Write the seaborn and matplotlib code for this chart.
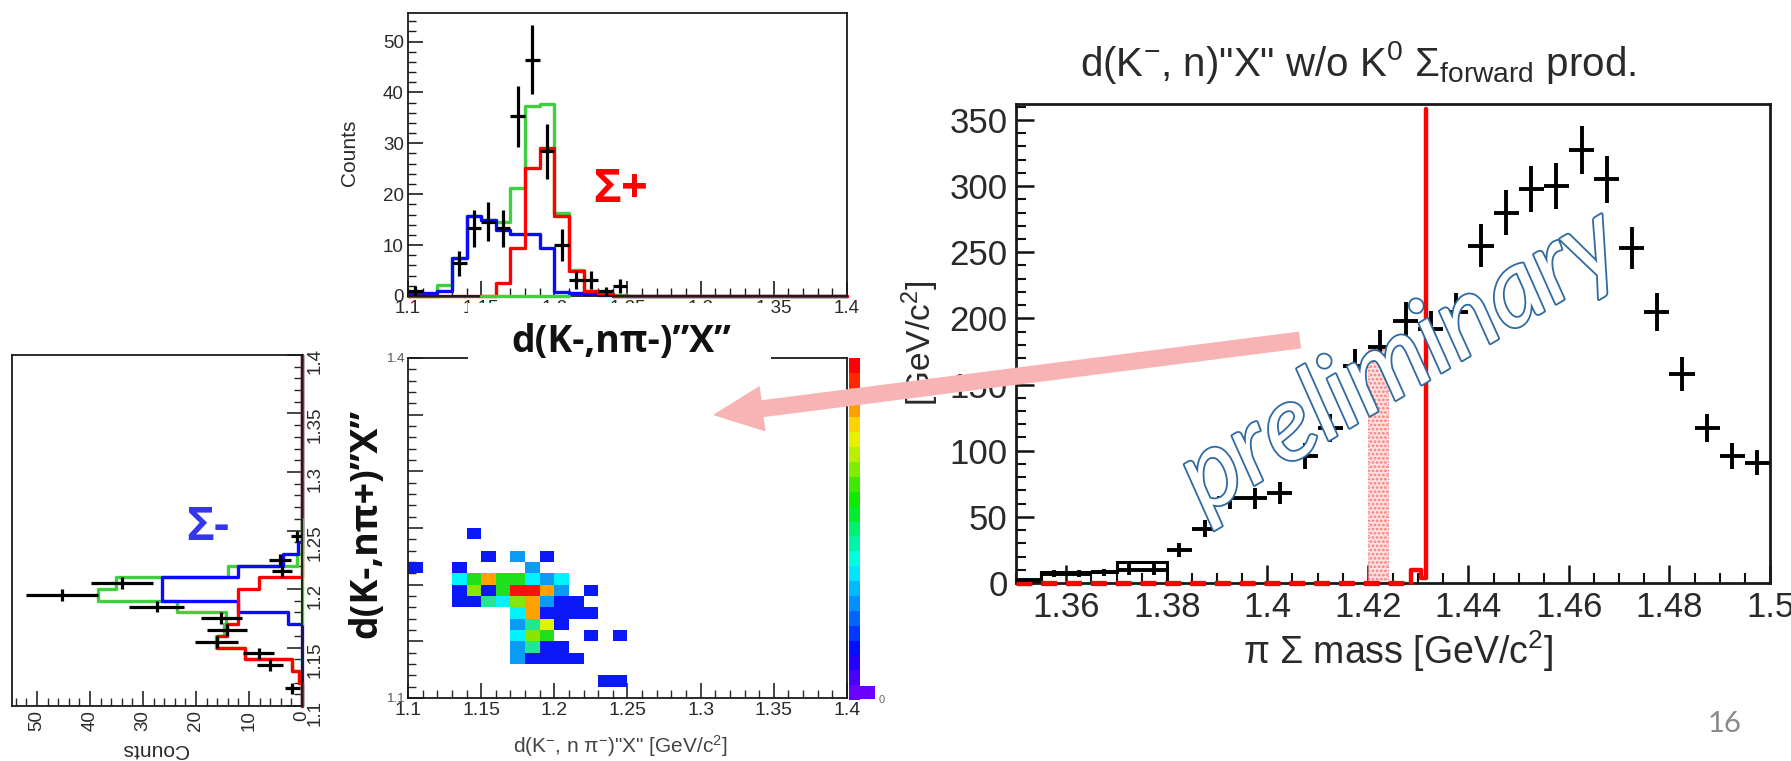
import numpy as np
import matplotlib
matplotlib.use("Agg")
import matplotlib.pyplot as plt
import seaborn as sns
from matplotlib.colors import ListedColormap, LinearSegmentedColormap
from matplotlib.patches import Rectangle, FancyArrow
from matplotlib.ticker import MultipleLocator, FixedLocator, FixedFormatter
import matplotlib.patheffects as pe

# ------------------------------------------------------------------ data
# common binning of the Sigma projections: 1.10 .. 1.40 GeV/c^2, 10 MeV bins
mass_edges = [round(1.10 + 0.01 * i, 2) for i in range(31)]
mass_centers = [round(1.105 + 0.01 * i, 3) for i in range(30)]

# top panel: d(K-, n pi-)"X"  (Sigma+ side)
sp_green = [0, 0, 2.2, 7.4, 15.7, 14.9, 14.6, 21.2, 37.4, 37.7, 16.4, 5.1, 1.0, 0.5, 0.2] + [0] * 15
sp_blue = [0.3, 0.5, 1.0, 7.4, 15.7, 14.9, 13.0, 12.2, 12.2, 9.4, 0.8, 0.6, 0.4, 0.2] + [0] * 16
sp_red = [0, 0, 0, 0, 0, 0, 2.5, 9.5, 25.1, 29.0, 15.8, 5.0, 1.0, 0.4] + [0] * 16
sp_green_zero = [1.15, 1.21]
sp_pts_x = [1.105, 1.135, 1.145, 1.155, 1.165, 1.175, 1.185, 1.195, 1.205, 1.215, 1.225, 1.235, 1.245]
sp_pts_y = [1.0, 6.4, 13.3, 14.6, 13.3, 35.3, 46.4, 28.4, 10.0, 3.1, 3.1, 0.9, 2.0]

# left panel: d(K-, n pi+)"X"  (Sigma- side), drawn rotated
sm_green = [0, 0, 0.5, 1.8, 10.8, 16.3, 14.8, 14.4, 23.6, 38.4, 35.0, 13.9, 0.9] + [0] * 17
sm_blue = [0, 0, 0, 0, 0, 0, 0, 2.6, 12.0, 26.5, 26.5, 12.0, 3.5, 0.8] + [0] * 16
sm_red = [0, 0, 0.5, 1.8, 10.8, 16.1, 14.2, 12.0, 12.0, 12.0, 8.2] + [0] * 19
sm_green_zero = [1.17, 1.26]
sm_pts_mass = [1.115, 1.135, 1.145, 1.155, 1.165, 1.175, 1.185, 1.195, 1.205, 1.215, 1.225, 1.245]
sm_pts_counts = [1.8, 6.0, 8.2, 16.1, 14.2, 15.2, 27.4, 45.3, 34.0, 3.8, 4.2, 1.0]

# 2D histogram cells (x bin index, y bin index, counts)
cell_ix = [4, 5, 7, 9, 0, 3, 8,
           3, 4, 5, 6, 7, 8, 9, 10,
           3, 4, 5, 6, 7, 8, 9, 10, 12,
           3, 4, 5, 6, 7, 8, 9, 10, 11,
           7, 8, 9, 10, 11, 12,
           7, 8, 9, 10,
           7, 8, 9, 12, 14,
           7, 8, 9, 10,
           7, 8, 9, 10, 11,
           13, 14]
cell_iy = [14, 12, 12, 12, 11, 11, 11,
           10, 10, 10, 10, 10, 10, 10, 10,
           9, 9, 9, 9, 9, 9, 9, 9, 9,
           8, 8, 8, 8, 8, 8, 8, 8, 8,
           7, 7, 7, 7, 7, 7,
           6, 6, 6, 6,
           5, 5, 5, 5, 5,
           4, 4, 4, 4,
           3, 3, 3, 3, 3,
           1, 1]
cell_n = [1, 1, 2, 1, 1, 1, 2,
          3, 5, 8, 5, 5, 3, 2, 3,
          1, 6, 1, 5, 10, 10, 8, 2, 1,
          1, 1, 4, 3, 6, 8, 2, 1, 1,
          3, 8, 1, 1, 1, 1,
          2, 4, 7, 1,
          3, 6, 5, 1, 1,
          2, 4, 1, 1,
          2, 1, 1, 1, 1,
          1, 1]

# right panel: pi Sigma mass, 5 MeV bins
pisig_x = [round(1.3525 + 0.005 * i, 4) for i in range(30)]
pisig_y = [2, 7, 7, 8, 10, 10, 25, 41, 64, 64, 68, 96, 117, 164, 178,
           198, 192, 205, 255, 280, 298, 300, 327, 305, 253, 205, 158, 117, 96, 91]
low_err = [1.5, 2.5, 2.5, 2.5, 4, 4]
low_step_edges = [1.35, 1.355, 1.37, 1.38]
low_step_vals = [0, 8.5, 15.5]
red_zero_x = [1.35, 1.4285]
red_peak_x = [1.4285, 1.4285, 1.4305, 1.4305, 1.4315, 1.4315]
red_peak_y = [0, 10, 10, 4, 4, 358]
band_lo, band_hi, band_h = 1.420, 1.424, 177

# tick labels
top_xticks = [1.1, 1.15, 1.2, 1.25, 1.3, 1.35, 1.4]
top_xlabels = ['1.1', '1.15', '1.2', '1.25', '1.3', '1.35', '1.4']
r_xticks = [1.36, 1.38, 1.40, 1.42, 1.44, 1.46, 1.48, 1.50]
r_xlabels = ['1.36', '1.38', '1.4', '1.42', '1.44', '1.46', '1.48', '1.5']
r_yticks = [0, 50, 100, 150, 200, 250, 300, 350]

# ------------------------------------------------------------------ style
sns.set_style("ticks")
plt.rcParams['font.family'] = ['Liberation Sans', 'DejaVu Sans']
plt.rcParams['mathtext.fontset'] = 'custom'
plt.rcParams['mathtext.rm'] = 'Liberation Sans'
plt.rcParams['mathtext.it'] = 'Liberation Sans:italic'
plt.rcParams['mathtext.bf'] = 'Liberation Sans:bold'
plt.rcParams['hatch.color'] = '#ff6a6a'
plt.rcParams['hatch.linewidth'] = 1.3

RED, GREEN, BLUE = '#ff0000', '#3fcf3f', '#0a0aff'
TXT = '#2a2a2a'
BOLD = ['Open Sans', 'DejaVu Sans']

W, H = 1791, 761
fig = plt.figure(figsize=(W / 100, H / 100), dpi=100)
fig.patch.set_facecolor('white')


def add_ax(x0, y0, x1, y1):
    return fig.add_axes([x0 / W, 1 - y1 / H, (x1 - x0) / W, (y1 - y0) / H])


def frame(ax, lw=1.3):
    for s in ax.spines.values():
        s.set_visible(True)
        s.set_linewidth(lw)
        s.set_color('#1a1a1a')


# ------------------------------------------------------------------ top panel
ax_t = add_ax(408, 13, 847, 296)
for vals, col in [(sp_green, GREEN), (sp_blue, BLUE), (sp_red, RED)]:
    sns.histplot(x=mass_centers, weights=vals, bins=mass_edges, element='step',
                 fill=False, color=col, linewidth=2.4, ax=ax_t, clip_on=False)
ax_t.plot(sp_green_zero, [0, 0], color=GREEN, lw=2.4, clip_on=False, zorder=5)
ax_t.errorbar(sp_pts_x, sp_pts_y, yerr=np.sqrt(sp_pts_y), xerr=0.005, fmt='none',
              ecolor='k', elinewidth=2.3, capsize=0, zorder=6)
ax_t.set_xlim(1.1, 1.4)
ax_t.set_ylim(0, 55.6)
ax_t.xaxis.set_major_locator(FixedLocator(top_xticks))
ax_t.xaxis.set_major_formatter(FixedFormatter(top_xlabels))
ax_t.xaxis.set_minor_locator(MultipleLocator(0.01))
ax_t.yaxis.set_major_locator(MultipleLocator(10))
ax_t.yaxis.set_minor_locator(MultipleLocator(2))
ax_t.tick_params(which='both', direction='in', top=False, right=False, color='#1a1a1a')
ax_t.tick_params(which='major', length=11, width=1.2, labelsize=13.5, pad=3, labelcolor=TXT)
ax_t.tick_params(which='minor', length=6, width=1.0)
ax_t.set_xlabel('')
ax_t.set_ylabel('')
frame(ax_t)

# ------------------------------------------------------------------ left panel
ax_l = add_ax(12, 355, 302, 706)
for vals, col in [(sm_green, GREEN), (sm_blue, BLUE), (sm_red, RED)]:
    sns.histplot(y=mass_centers, weights=vals, bins=mass_edges, element='step',
                 fill=False, color=col, linewidth=2.4, ax=ax_l, clip_on=False)
ax_l.plot([0, 0], sm_green_zero, color=GREEN, lw=2.4, clip_on=False, zorder=2)
ax_l.errorbar(sm_pts_counts, sm_pts_mass, xerr=np.sqrt(sm_pts_counts), yerr=0.005,
              fmt='none', ecolor='k', elinewidth=2.3, capsize=0, zorder=6)
ax_l.set_xlim(54.7, 0)
ax_l.set_ylim(1.1, 1.4)
ax_l.yaxis.tick_right()
ax_l.yaxis.set_major_locator(FixedLocator(top_xticks))
ax_l.yaxis.set_major_formatter(FixedFormatter(top_xlabels))
ax_l.yaxis.set_minor_locator(MultipleLocator(0.01))
ax_l.xaxis.set_major_locator(MultipleLocator(10))
ax_l.xaxis.set_minor_locator(MultipleLocator(2))
ax_l.tick_params(axis='y', which='both', left=False, right=True, labelleft=False,
                 labelright=True, direction='in', labelrotation=90)
ax_l.tick_params(axis='x', which='both', top=False, bottom=True, direction='in',
                 labelrotation=90)
ax_l.tick_params(which='major', length=11, width=1.2, labelsize=13.5, pad=3, labelcolor=TXT)
ax_l.tick_params(which='minor', length=6, width=1.0)
ax_l.set_xlabel('')
ax_l.set_ylabel('')
frame(ax_l)

# ------------------------------------------------------------------ 2D panel
anchor_cols = ['#7a00ff', '#0818f8', '#0a9cf5', '#00f5ff', '#1fe890', '#1ee01e',
               '#8ae600', '#dcf50a', '#ffa200', '#ff4a00', '#ff1010']
cmap2d = LinearSegmentedColormap.from_list('root', anchor_cols, N=256)
ax_2 = add_ax(408, 358, 847, 698)
sns.histplot(x=[mass_centers[i] for i in cell_ix], y=[mass_centers[j] for j in cell_iy],
             weights=cell_n, bins=[mass_edges, mass_edges], cmap=cmap2d,
             vmin=0, vmax=10, ax=ax_2)
ax_2.set_xlim(1.1, 1.4)
ax_2.set_ylim(1.1, 1.4)
ax_2.xaxis.set_major_locator(FixedLocator(top_xticks))
ax_2.xaxis.set_major_formatter(FixedFormatter(top_xlabels))
ax_2.xaxis.set_minor_locator(MultipleLocator(0.01))
ax_2.yaxis.set_major_locator(FixedLocator(top_xticks))
ax_2.yaxis.set_major_formatter(FixedFormatter(['1.1', '', '', '', '', '', '1.4']))
ax_2.yaxis.set_minor_locator(MultipleLocator(0.01))
ax_2.tick_params(which='both', direction='in', top=False, right=False)
ax_2.tick_params(axis='x', which='major', length=11, width=1.2, labelsize=14, pad=3,
                 labelcolor=TXT)
ax_2.tick_params(axis='y', which='major', length=11, width=1.2, labelsize=9.5, pad=2,
                 labelcolor='#555555')
ax_2.tick_params(which='minor', length=6, width=1.0)
ax_2.set_xlabel('')
ax_2.set_ylabel('')
frame(ax_2)

# colour bar
cbar_cols = ['#6a00ff', '#4a00ff', '#2400ff', '#0010ff', '#0038ff', '#0064ff', '#0090ff',
             '#00b8ff', '#00e4ff', '#00ffe0', '#00f4a8', '#00f070', '#00ec30', '#10ea00',
             '#40ea00', '#80ec00', '#b8f000', '#e8f000', '#ffd200', '#ffa000', '#ff6000',
             '#ff2800', '#ff0000']
ax_c = add_ax(849, 358, 860, 700)
ax_c.pcolormesh(np.arange(len(cbar_cols)).reshape(-1, 1), cmap=ListedColormap(cbar_cols),
                vmin=-0.5, vmax=len(cbar_cols) - 0.5)
ax_c.set_xticks([])
ax_c.set_yticks([])
for s in ax_c.spines.values():
    s.set_visible(False)

# ------------------------------------------------------------------ right panel
ax_r = add_ax(1016, 104, 1770, 583)
ax_r.bar((band_lo + band_hi) / 2, band_h, width=band_hi - band_lo, facecolor='#ffe2e2',
         edgecolor='#ff7a7a', hatch='....', linewidth=0.8, linestyle=':', zorder=1)
ax_r.stairs(low_step_vals, low_step_edges, color='k', lw=2.2, zorder=3)
ax_r.plot(red_zero_x, [0, 0], color=RED, lw=3.8, dashes=(3, 1.7), clip_on=False, zorder=4)
ax_r.plot(red_peak_x, red_peak_y, color=RED, lw=3.2, clip_on=False, zorder=4)
pisig_err = low_err + list(np.sqrt(pisig_y[len(low_err):]))
ax_r.errorbar(pisig_x, pisig_y, yerr=pisig_err, xerr=0.0025, fmt='none', ecolor='k',
              elinewidth=2.8, capsize=0, zorder=5)
ax_r.set_xlim(1.35, 1.5)
ax_r.set_ylim(0, 362)
ax_r.xaxis.set_major_locator(FixedLocator(r_xticks))
ax_r.xaxis.set_major_formatter(FixedFormatter(r_xlabels))
ax_r.xaxis.set_minor_locator(MultipleLocator(0.005))
ax_r.yaxis.set_major_locator(FixedLocator(r_yticks))
ax_r.yaxis.set_minor_locator(MultipleLocator(10))
ax_r.tick_params(which='both', direction='in', top=False, right=False, color='#111111')
ax_r.tick_params(which='major', length=13, width=1.8, labelsize=25, pad=6, labelcolor=TXT)
ax_r.tick_params(which='minor', length=7, width=1.5)
frame(ax_r, lw=2.0)

# ------------------------------------------------------------------ overlay (slide annotations)
ov = fig.add_axes([0, 0, 1, 1], zorder=10)
ov.set_xlim(0, W)
ov.set_ylim(H, 0)
ov.axis('off')
ov.patch.set_alpha(0)

# white label box over the top panel ticks
ov.add_patch(Rectangle((468, 303), 303, 69, facecolor='white', edgecolor='none', zorder=1))
ov.text(621, 342, 'd(K-,nπ-)”X”', fontsize=27, fontweight='bold', family=BOLD,
        ha='center', va='center', color='#111111', zorder=2)
ov.text(366, 523, 'd(K-,nπ+)”X”', fontsize=27, fontweight='bold', family=BOLD,
        ha='center', va='center', rotation=90, color='#111111', zorder=2)
ov.text(621, 190, 'Σ+', fontsize=34, fontweight='bold', family=BOLD, color='#ff0000',
        ha='center', va='center')
ov.text(208, 527, 'Σ-', fontsize=34, fontweight='bold', family=BOLD, color='#3535ee',
        ha='center', va='center')

ov.text(350, 153, 'Counts', rotation=90, fontsize=15, ha='center', va='center', color=TXT)
ov.text(155, 749, 'Counts', rotation=180, fontsize=15, ha='center', va='center', color=TXT)
ov.text(620, 746, 'd(K$^{-}$, n π$^{-}$)"X" [GeV/c$^{2}$]', fontsize=15, ha='center',
        va='center', color='#444444')

# colour bar zero tab
ov.add_patch(Rectangle((860, 686), 15, 13, facecolor='#6a00ff', edgecolor='none'))
ov.text(882, 700, '0', fontsize=8, ha='center', va='center', color='#666666')

ov.text(1358, 63, 'd(K$^{-}$, n)"X" w/o K$^{0}$ Σ$_{\\mathrm{forward}}$ prod.', fontsize=29,
        ha='center', va='center', color=TXT)
ov.text(1398, 651, 'π Σ mass [GeV/c$^{2}$]', fontsize=27, ha='center', va='center', color=TXT)
ov.text(920, 343, '[GeV/c$^{2}$]', rotation=90, fontsize=24, ha='center', va='center',
        color=TXT)
ov.text(1725, 724, '16', fontsize=21, ha='center', va='center', color='#8a8a8a',
        family=['Lato', 'DejaVu Sans'])

# pink arrow
ov.add_patch(FancyArrow(1300, 340, 713 - 1300, 415 - 340, width=17, head_width=46,
                        head_length=50, length_includes_head=True, color='#f8b4b4',
                        lw=0, zorder=3))

# "preliminary" watermark
ov.text(1400, 362, 'preliminary', fontsize=76, rotation=31, fontstyle='italic',
        family=['Lato', 'DejaVu Sans'], color='white', ha='center', va='center', zorder=4,
        path_effects=[pe.Stroke(linewidth=2.6, foreground='#2f6aa3'), pe.Normal()])

fig.savefig('out.png', dpi=100, facecolor='white')
